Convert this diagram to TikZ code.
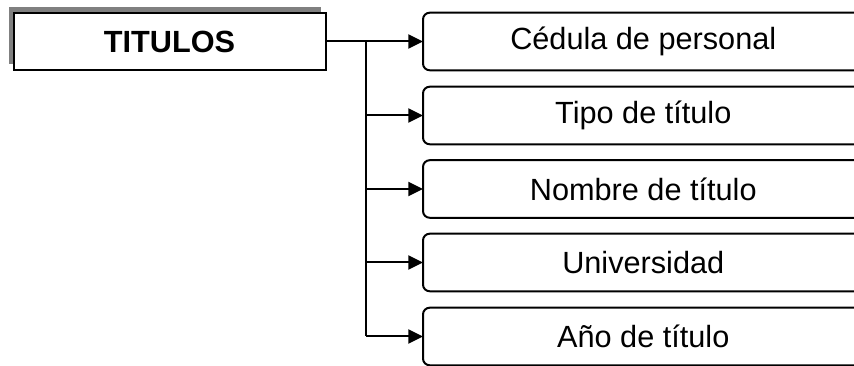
\documentclass[tikz,border=0pt]{standalone}
\usepackage{fontspec}
\setmainfont{Liberation Sans}
\usetikzlibrary{positioning, arrows.meta, shadows}

\begin{document}
\begin{tikzpicture}[x=0.75pt, y=-0.75pt,
    every node/.style={font=\fontsize{23}{28}\selectfont},
    field/.style={minimum width=330pt, minimum height=42.75pt, inner sep=0pt, anchor=west},
    frame/.style={line width=1.5pt, rounded corners=5pt},
    link/.style={-{Triangle[length=11pt, width=10.5pt]}, line width=1.5pt}]
  \clip (0,0) rectangle (854,366);
  \node[draw, line width=1.5pt, fill=white, minimum width=234pt, minimum height=42.75pt, drop shadow={shadow xshift=-3.75pt, shadow yshift=4.5pt, fill=gray, opacity=1}, font=\bfseries\fontsize{23}{28}\selectfont] (titulos) at (169.5,41.5) {TITULOS};
  \node[field] (cedula) at (423,41.5) {Cédula de personal};
  \node[field] (tipo) at (423,115.5) {Tipo de título};
  \node[field] (nombre) at (423,189) {Nombre de título};
  \node[field] (univ) at (423,262.5) {Universidad};
  \node[field] (anio) at (423,336.5) {Año de título};
  % open frames, cut by the page edge
  \foreach \n in {cedula, tipo, nombre, univ, anio}
    \draw[frame] ([xshift=30pt]\n.north east) -- (\n.north west) -- (\n.south west) -- ([xshift=30pt]\n.south east);
  \coordinate (trunk) at (366,41.5);
  \draw[link] (titulos) -- (cedula);
  \draw[line width=1.5pt] (trunk) -- (trunk |- anio);
  \draw[link] (trunk |- tipo) -- (tipo);
  \draw[link] (trunk |- nombre) -- (nombre);
  \draw[link] (trunk |- univ) -- (univ);
  \draw[link] (trunk |- anio) -- (anio);
\end{tikzpicture}
\end{document}
